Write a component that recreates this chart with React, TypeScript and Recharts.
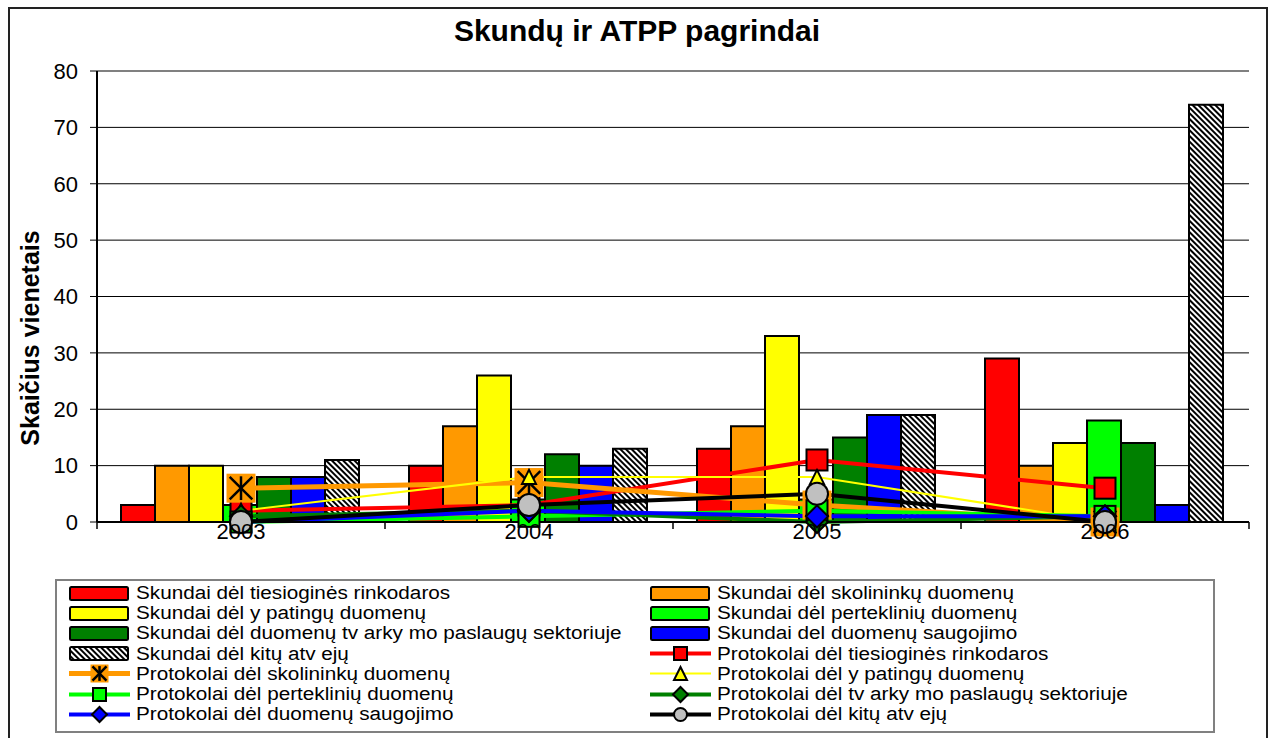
import React from "react";
import { ComposedChart, Bar, Line, XAxis, YAxis, CartesianGrid, Legend, ReferenceLine } from "recharts";

const years = ["2003", "2004", "2005", "2006"];
const yTicks = [0, 10, 20, 30, 40, 50, 60, 70, 80];
const boundaryTicks = [0, 1, 2, 3, 4];

// Skundai (bars)
const skundaiTiesiogine = [3, 10, 13, 29];
const skundaiSkolininku = [10, 17, 17, 10];
const skundaiYpatingu = [10, 26, 33, 14];
const skundaiPerteklinu = [3, 4, 4, 18];
const skundaiTvarkymo = [8, 12, 15, 14];
const skundaiSaugojimo = [8, 10, 19, 3];
const skundaiKitu = [11, 13, 19, 74];

// Protokolai (lines)
const protokolaiTiesiogine = [2, 3, 11, 6];
const protokolaiSkolininku = [6, 7, 3, 0];
const protokolaiYpatingu = [2, 8, 8, 0];
const protokolaiPerteklinu = [0, 1, 2, 1];
const protokolaiTvarkymo = [1, 2, 0, 1];
const protokolaiSaugojimo = [0, 2, 1, 1];
const protokolaiKitu = [0, 3, 5, 0];

const FONT = "Arial, 'Liberation Sans', sans-serif";
const HATCH = "url(#hatch)";

const bars = [
    { key: "sTiesiogine", label: "Skundai dėl tiesioginės rinkodaros", fill: "#FF0000", values: skundaiTiesiogine },
    { key: "sSkolininku", label: "Skundai dėl skolininkų duomenų", fill: "#FF9900", values: skundaiSkolininku },
    { key: "sYpatingu", label: "Skundai dėl y patingų duomenų", fill: "#FFFF00", values: skundaiYpatingu },
    { key: "sPerteklinu", label: "Skundai dėl perteklinių duomenų", fill: "#00FF00", values: skundaiPerteklinu },
    { key: "sTvarkymo", label: "Skundai dėl duomenų tv arky mo paslaugų sektoriuje", fill: "#008000", values: skundaiTvarkymo },
    { key: "sSaugojimo", label: "Skundai del duomenų saugojimo", fill: "#0000FF", values: skundaiSaugojimo },
    { key: "sKitu", label: "Skundai dėl kitų atv ejų", fill: HATCH, values: skundaiKitu },
];

const lines = [
    { key: "pTiesiogine", label: "Protokolai dėl tiesioginės rinkodaros", stroke: "#FF0000", width: 4, shape: "square", fill: "#FF0000", size: 21, lsize: 13, values: protokolaiTiesiogine },
    { key: "pSkolininku", label: "Protokolai dėl skolininkų duomenų", stroke: "#FF9900", width: 5, shape: "star", fill: "#FF9900", size: 29, lsize: 18, values: protokolaiSkolininku },
    { key: "pYpatingu", label: "Protokolai dėl y patingų duomenų", stroke: "#FFFF00", width: 2, shape: "triangle", fill: "#FFFF00", size: 14, lsize: 13, values: protokolaiYpatingu },
    { key: "pPerteklinu", label: "Protokolai dėl perteklinių duomenų", stroke: "#00FF00", width: 4, shape: "square", fill: "#00FF00", size: 21, lsize: 13, values: protokolaiPerteklinu },
    { key: "pTvarkymo", label: "Protokolai dėl tv arky mo paslaugų sektoriuje", stroke: "#008000", width: 4, shape: "diamond", fill: "#008000", size: 22, lsize: 15, values: protokolaiTvarkymo },
    { key: "pSaugojimo", label: "Protokolai dėl duomenų saugojimo", stroke: "#0000FF", width: 4, shape: "diamond", fill: "#0000FF", size: 22, lsize: 15, values: protokolaiSaugojimo },
    { key: "pKitu", label: "Protokolai dėl kitų atv ejų", stroke: "#000000", width: 4, shape: "circle", fill: "#C0C0C0", size: 22, lsize: 13, values: protokolaiKitu },
];

const data = years.map((year, i) => {
    const row: any = { year, pos: i + 0.5 };
    bars.forEach(b => { row[b.key] = b.values[i]; });
    lines.forEach(l => { row[l.key] = l.values[i]; });
    return row;
});

function marker(shape: string, fill: string, size: number, cx: number, cy: number, key?: any) {
    const h = size / 2;
    if (shape === "square") {
        return <rect key={key} x={cx - h} y={cy - h} width={size} height={size} fill={fill} stroke="#000" strokeWidth={2} />;
    }
    if (shape === "star") {
        const a = h * 0.78;
        return (
            <g key={key}>
                <rect x={cx - h} y={cy - h} width={size} height={size} fill={fill} />
                <line x1={cx} y1={cy - a * 1.05} x2={cx} y2={cy + a * 1.05} stroke="#000" strokeWidth={2.5} />
                <line x1={cx - a} y1={cy - a} x2={cx + a} y2={cy + a} stroke="#000" strokeWidth={2.5} />
                <line x1={cx - a} y1={cy + a} x2={cx + a} y2={cy - a} stroke="#000" strokeWidth={2.5} />
            </g>
        );
    }
    if (shape === "triangle") {
        return <path key={key} d={`M${cx},${cy - h} L${cx + h},${cy + h} L${cx - h},${cy + h} Z`} fill={fill} stroke="#000" strokeWidth={2} />;
    }
    if (shape === "diamond") {
        return <path key={key} d={`M${cx},${cy - h} L${cx + h},${cy} L${cx},${cy + h} L${cx - h},${cy} Z`} fill={fill} stroke="#000" strokeWidth={2} />;
    }
    return <circle key={key} cx={cx} cy={cy} r={h} fill={fill} stroke="#000" strokeWidth={2} />;
}

const legendItems = [
    ...bars.map(b => ({ type: "bar", label: b.label, fill: b.fill } as any)),
    ...lines.map(l => ({ type: "line", ...l } as any)),
];

function LegendBox() {
    return (
        <div style={{ display: "grid", gridTemplateColumns: "581px 1fr", paddingLeft: 11, paddingTop: 2, fontFamily: FONT, fontSize: 18, color: "#000" }}>
            {legendItems.map((it, i) => (
                <div key={i} style={{ display: "flex", alignItems: "center", height: 20.2, whiteSpace: "nowrap" }}>
                    <svg width={64} height={19} style={{ flex: "none" }}>
                        {it.type === "bar" ? (
                            <rect x={2} y={3} width={58} height={13} rx={1.5} fill={it.fill} stroke="#000" strokeWidth={2} />
                        ) : (
                            <g>
                                <line x1={1} y1={9.5} x2={62} y2={9.5} stroke={it.stroke} strokeWidth={it.width} />
                                {marker(it.shape, it.fill, it.lsize, 31.5, 9.5)}
                            </g>
                        )}
                    </svg>
                    <span style={{ display: "inline-block", marginLeft: 4, lineHeight: "20px", transform: "scaleX(1.15)", transformOrigin: "left center" }}>{it.label}</span>
                </div>
            ))}
        </div>
    );
}

const noLabel = () => <g />;

export default function App() {
    return (
        <div style={{ position: "absolute", left: 0, top: 0, width: 1271, height: 738, overflow: "hidden", background: "#fff", fontFamily: FONT }}>
            <div style={{ position: "absolute", left: 8, top: 7, width: 1256, height: 760, border: "2px solid #222" }} />
            <div style={{ position: "absolute", left: 8, top: 15, width: 1258, textAlign: "center", fontWeight: "bold", fontSize: 30, lineHeight: "32px", color: "#000" }}>
                Skundų ir ATPP pagrindai
            </div>
            <div style={{ position: "absolute", left: 30, top: 338, width: 0, height: 0 }}>
                <div style={{ position: "absolute", transform: "translate(-50%, -50%) rotate(-90deg)", whiteSpace: "nowrap", fontWeight: "bold", fontSize: 25, lineHeight: "26px", color: "#000" }}>
                    Skaičius vienetais
                </div>
            </div>
            <ComposedChart
                width={1271}
                height={738}
                data={data}
                margin={{ top: 71, right: 22, bottom: 178, left: 0 }}
                barCategoryGap={24}
                barGap={0}
            >
                <defs>
                    <pattern id="hatch" patternUnits="userSpaceOnUse" width={4} height={4} patternTransform="rotate(-45)">
                        <rect x={0} y={0} width={4} height={4} fill="#fff" />
                        <rect x={0} y={0} width={2} height={4} fill="#000" />
                    </pattern>
                </defs>
                <CartesianGrid vertical={false} stroke="#000" horizontalValues={yTicks.slice(1, -1)} />
                <XAxis
                    xAxisId={0}
                    dataKey="pos"
                    type="number"
                    domain={[0, 4]}
                    allowDataOverflow
                    ticks={boundaryTicks}
                    interval={0}
                    tick={noLabel}
                    tickSize={7}
                    height={8}
                    axisLine={{ stroke: "#000", strokeWidth: 2 }}
                    tickLine={{ stroke: "#000", strokeWidth: 1.5 }}
                />
                <XAxis
                    xAxisId={1}
                    dataKey="year"
                    height={30}
                    axisLine={false}
                    tickLine={false}
                    tickSize={0}
                    tickMargin={-7}
                    tick={{ fill: "#000", fontSize: 22, fontFamily: FONT }}
                />
                <YAxis
                    domain={[0, 80]}
                    ticks={yTicks}
                    width={97}
                    interval={0}
                    tickSize={7}
                    tickMargin={12}
                    axisLine={{ stroke: "#000", strokeWidth: 2 }}
                    tickLine={{ stroke: "#000" }}
                    tick={{ fill: "#000", fontSize: 22, fontFamily: FONT }}
                />
                <YAxis yAxisId="r" orientation="right" domain={[0, 80]} width={0} tick={false} tickLine={false} axisLine={{ stroke: "#808080", strokeWidth: 2 }} />
                <ReferenceLine y={80} stroke="#808080" strokeWidth={2} />
                {bars.map(b => (
                    <Bar key={b.key} xAxisId={1} dataKey={b.key} fill={b.fill} stroke="#000" strokeWidth={2} isAnimationActive={false} />
                ))}
                {lines.map(l => (
                    <Line
                        key={l.key}
                        xAxisId={1}
                        dataKey={l.key}
                        type="linear"
                        stroke={l.stroke}
                        strokeWidth={l.width}
                        isAnimationActive={false}
                        activeDot={false}
                        dot={(p: any) => marker(l.shape, l.fill, l.size, p.cx, p.cy, `${l.key}-${p.index}`)}
                    />
                ))}
                <Legend
                    layout="vertical"
                    align="center"
                    verticalAlign="middle"
                    content={() => <LegendBox />}
                    wrapperStyle={{ position: "absolute", left: 55, top: 579, width: 1160, height: 154, boxSizing: "border-box", border: "2px solid #808080", background: "#fff" }}
                />
            </ComposedChart>
        </div>
    );
}
